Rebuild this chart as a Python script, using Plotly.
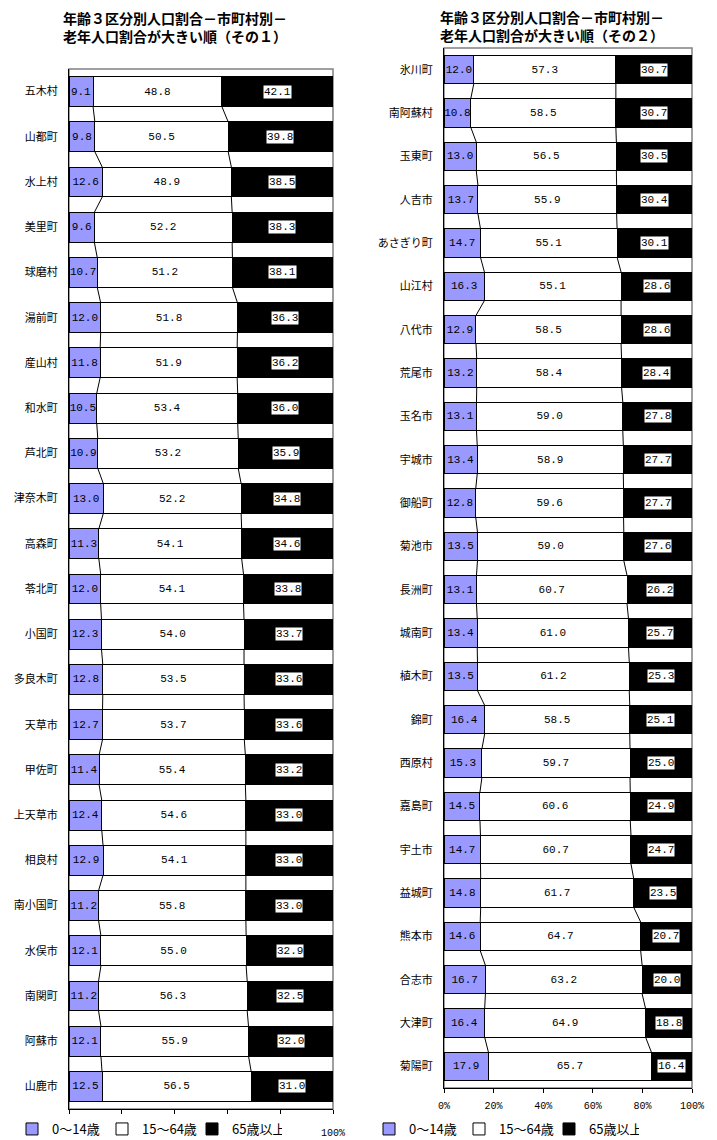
import plotly.graph_objects as go

# その１
towns1 = ['五木村', '山都町', '水上村', '美里町', '球磨村', '湯前町', '産山村', '和水町', '芦北町',
          '津奈木町', '高森町', '苓北町', '小国町', '多良木町', '天草市', '甲佐町', '上天草市', '相良村',
          '南小国町', '水俣市', '南関町', '阿蘇市', '山鹿市']
young1 = [9.1, 9.8, 12.6, 9.6, 10.7, 12.0, 11.8, 10.5, 10.9, 13.0, 11.3, 12.0, 12.3, 12.8, 12.7,
          11.4, 12.4, 12.9, 11.2, 12.1, 11.2, 12.1, 12.5]
work1 = [48.8, 50.5, 48.9, 52.2, 51.2, 51.8, 51.9, 53.4, 53.2, 52.2, 54.1, 54.1, 54.0, 53.5, 53.7,
         55.4, 54.6, 54.1, 55.8, 55.0, 56.3, 55.9, 56.5]
old1 = [42.1, 39.8, 38.5, 38.3, 38.1, 36.3, 36.2, 36.0, 35.9, 34.8, 34.6, 33.8, 33.7, 33.6, 33.6,
        33.2, 33.0, 33.0, 33.0, 32.9, 32.5, 32.0, 31.0]

# その２
towns2 = ['氷川町', '南阿蘇村', '玉東町', '人吉市', 'あさぎり町', '山江村', '八代市', '荒尾市', '玉名市',
          '宇城市', '御船町', '菊池市', '長洲町', '城南町', '植木町', '錦町', '西原村', '嘉島町', '宇土市',
          '益城町', '熊本市', '合志市', '大津町', '菊陽町']
young2 = [12.0, 10.8, 13.0, 13.7, 14.7, 16.3, 12.9, 13.2, 13.1, 13.4, 12.8, 13.5, 13.1, 13.4, 13.5,
          16.4, 15.3, 14.5, 14.7, 14.8, 14.6, 16.7, 16.4, 17.9]
work2 = [57.3, 58.5, 56.5, 55.9, 55.1, 55.1, 58.5, 58.4, 59.0, 58.9, 59.6, 59.0, 60.7, 61.0, 61.2,
         58.5, 59.7, 60.6, 60.7, 61.7, 64.7, 63.2, 64.9, 65.7]
old2 = [30.7, 30.7, 30.5, 30.4, 30.1, 28.6, 28.6, 28.4, 27.8, 27.7, 27.7, 27.6, 26.2, 25.7, 25.3,
        25.1, 25.0, 24.9, 24.7, 23.5, 20.7, 20.0, 18.8, 16.4]

groups = ['0～14歳', '15～64歳', '65歳以上']
colors = ['#9999FF', '#FFFFFF', '#000000']
titles = ['年齢３区分別人口割合－市町村別－<br>老年人口割合が大きい順（その１）',
          '年齢３区分別人口割合－市町村別－<br>老年人口割合が大きい順（その２）']

# page has an 8px body margin, so the figure is 8px smaller and everything is shifted
OFF = 8
W, H = 717 - OFF, 1140 - OFF
JP = 'Noto Sans CJK JP'
NUM = 'Liberation Mono'
BW = 0.66


def px(x):
    return (x - OFF) / W


def py(y):
    return 1 - (y - OFF) / H


panels = [
    dict(towns=towns1, vals=[young1, work1, old1], xa='x', ya='y', legend='legend',
         xdom=[px(69), px(333)], ydom=[py(1109), py(69)], title_xy=(175, 27)),
    dict(towns=towns2, vals=[young2, work2, old2], xa='x2', ya='y2', legend='legend2',
         xdom=[px(444), px(692)], ydom=[py(1088), py(48)], title_xy=(552, 26)),
]

fig = go.Figure()
annotations = []
shapes = []

for k, p in enumerate(panels):
    n = len(p['towns'])
    idx = list(range(n))
    for g, name in enumerate(groups):
        vals = p['vals'][g]
        fig.add_trace(go.Bar(
            x=vals, y=idx, orientation='h', name=name, width=BW,
            marker=dict(color=colors[g], line=dict(color='black', width=1)),
            text=[f'{v:.1f}' for v in vals] if g < 2 else None,
            textposition='inside', insidetextanchor='middle', textangle=0,
            textfont=dict(family=NUM, size=11, color='black'),
            xaxis=p['xa'], yaxis=p['ya'], legend=p['legend'], hoverinfo='skip'))

    # series lines between bars
    young, work, old = p['vals']
    for b in [young, [a + c for a, c in zip(young, work)]]:
        xs, ys = [], []
        for i in range(n - 1):
            xs += [b[i], b[i + 1], None]
            ys += [i + BW / 2, i + 1 - BW / 2, None]
        fig.add_trace(go.Scatter(x=xs, y=ys, mode='lines', line=dict(color='black', width=1),
                                 showlegend=False, hoverinfo='skip', xaxis=p['xa'], yaxis=p['ya']))

    # labels for 65+ with white box
    for i in idx:
        annotations.append(dict(x=100 - old[i] / 2, y=i, xref=p['xa'], yref=p['ya'],
                                text=f'{old[i]:.1f}', showarrow=False, bgcolor='white', borderpad=0,
                                font=dict(family=NUM, size=11, color='black')))

    # plot area border (grey)
    shapes.append(dict(type='rect', xref=p['xa'] + ' domain', yref=p['ya'] + ' domain',
                       x0=0, x1=1, y0=0, y1=1, line=dict(color='#808080', width=1.5), layer='below'))

    tx, ty = p['title_xy']
    annotations.append(dict(x=px(tx), y=py(ty), xref='paper', yref='paper',
                            xanchor='center', yanchor='middle',
                            text='<b>' + titles[k] + '</b>', showarrow=False,
                            font=dict(family=JP, size=14, color='black'), align='center'))

ax_common = dict(range=[0, 100], tickvals=[0, 20, 40, 60, 80, 100], ticks='outside', ticklen=4,
                 tickcolor='black', showline=True, linecolor='black', linewidth=1, showgrid=False,
                 zeroline=False, fixedrange=True, automargin=False,
                 tickfont=dict(family=NUM, size=10, color='black'))
ay_common = dict(ticks='', showline=True, linecolor='black', showgrid=False, zeroline=False,
                 ticklabelstandoff=8, automargin=False, fixedrange=True,
                 tickfont=dict(family=JP, size=11, color='black'))
leg_common = dict(orientation='h', xanchor='left', yanchor='middle', y=py(1129),
                  font=dict(family=JP, size=13, color='black'), bgcolor='rgba(0,0,0,0)',
                  itemwidth=30, traceorder='normal', entrywidth=45)

fig.update_layout(
    width=W, height=H, margin=dict(l=0, r=0, t=0, b=0, autoexpand=False),
    paper_bgcolor='white', plot_bgcolor='white', barmode='stack',
    showlegend=True,
    xaxis=dict(domain=panels[0]['xdom'], anchor='y', ticktext=['', '', '', '', '', '100%'],
               ticklabelstandoff=10, **ax_common),
    xaxis2=dict(domain=panels[1]['xdom'], anchor='y2',
                ticktext=['0%', '20%', '40%', '60%', '80%', '100%'], ticklabelstandoff=4, **ax_common),
    yaxis=dict(domain=panels[0]['ydom'], anchor='x', range=[len(towns1) - 0.5, -0.5],
               tickvals=list(range(len(towns1))), ticktext=towns1, **ay_common),
    yaxis2=dict(domain=panels[1]['ydom'], anchor='x2', range=[len(towns2) - 0.5, -0.5],
                tickvals=list(range(len(towns2))), ticktext=towns2, **ay_common),
    legend=dict(x=px(12), **leg_common),
    legend2=dict(x=px(369), **leg_common),
    uniformtext=dict(minsize=11, mode='show'),
    annotations=annotations, shapes=shapes,
)

fig.write_html("out.html")
